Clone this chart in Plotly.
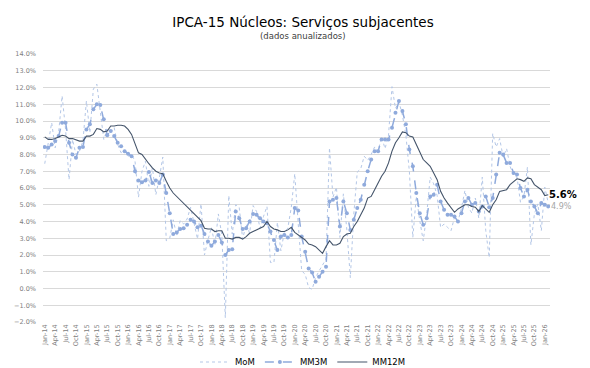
import plotly.graph_objects as go
import pandas as pd

# Monthly series (annualized, %), Jan-14 .. Feb-26
mom = [
    7.45, 8.65, 9.9, 8.4, 9.3, 11.5, 9.5, 6.5, 8.9, 8.0, 8.2, 8.8,
    11.2, 9.3, 11.9, 12.2, 10.7, 8.9, 9.5, 9.3, 9.6, 8.6, 8.1, 8.2,
    7.9, 8.0, 7.6, 5.45, 7.0, 7.6, 6.1, 7.2, 5.6, 6.6, 7.85, 2.85,
    3.0, 4.1, 3.15, 4.05, 3.85, 4.15, 4.85, 3.85, 2.95, 5.05, 2.0, 2.9,
    3.65, 2.6, 4.45, 3.2, -1.75, 5.55, 3.25, 5.0, 4.85, 2.95, 3.85, 3.3,
    4.95, 4.6, 3.6, 4.3, 4.9, 1.55, 1.55, 3.95, 2.25, 3.35, 3.6, 4.85,
    6.85, 3.85, 1.05, 0.85, 0.05, -0.05, 0.65, 1.05, 1.4, 1.75, 8.4, 5.45,
    6.05, 3.05, 5.65, 3.5, 0.65, 4.45, 6.95, 7.15, 7.9, 7.65, 8.0, 8.45,
    8.2, 9.05, 8.35, 9.15, 12.05, 10.75, 11.15, 10.35, 9.15, 7.0, 3.05, 5.5,
    4.05, 2.85, 4.45, 6.65, 6.25, 5.55, 3.65, 3.85, 3.65, 3.45, 4.25, 4.0,
    4.8, 5.85, 4.85, 4.5, 5.4, 4.2, 6.65, 3.45, 1.85, 9.25, 8.45, 8.95,
    7.85, 8.35, 7.3, 6.75, 6.65, 5.15, 5.5, 7.25, 2.6, 4.45, 5.05, 3.45,
    6.05, 5.1,
]

mm3m = [
    8.45, 8.4, 8.6, 8.8, 9.1, 9.9, 9.9, 8.7, 8.0, 7.8, 8.4, 8.45,
    9.5, 9.8, 10.7, 11.0, 10.95, 10.1, 9.15, 9.4, 9.1, 8.7, 8.5, 8.2,
    8.05, 7.9, 7.0, 6.45, 6.35, 6.45, 6.95, 6.3, 6.45, 6.3, 6.8, 5.7,
    4.5, 3.25, 3.35, 3.55, 3.6, 3.8, 4.1, 4.0, 3.65, 3.75, 3.25, 2.8,
    2.55, 2.8, 3.2, 2.75, 2.0, 2.3, 2.35, 4.6, 4.2, 3.55, 3.6, 4.0,
    4.45, 4.4, 4.2, 4.0, 3.9, 3.4, 2.9, 2.3, 3.1, 3.2, 3.05, 3.2,
    4.8, 4.65, 3.1, 2.2, 1.2, 0.95, 0.4, 0.7, 1.0, 1.3, 5.2, 5.3,
    5.4, 3.7, 5.2, 4.5, 3.5, 4.1, 4.8, 5.3, 6.2, 7.0, 7.7, 8.2,
    8.2, 8.9, 8.9, 8.9, 9.6, 10.5, 11.2, 10.6, 9.8, 8.3, 7.3, 5.7,
    4.5, 3.8, 4.2, 5.5, 5.6, 6.2, 5.2, 4.7, 4.4, 4.4, 4.3, 4.0,
    4.5, 5.2, 5.4, 5.0, 5.1, 4.6, 4.9, 5.5, 4.85, 5.4, 6.8, 8.1,
    8.0, 7.5, 7.5, 6.9, 6.8, 6.0, 5.5, 5.9, 5.2, 4.9, 4.5, 5.1,
    5.0, 4.9,
]

mm12m = [
    9.05, 8.9, 8.9, 8.95, 9.05, 9.15, 9.1, 8.95, 8.95, 8.85, 8.8, 8.8,
    9.1, 9.1, 9.2, 9.55, 9.5, 9.35, 9.4, 9.7, 9.7, 9.75, 9.75, 9.7,
    9.5, 9.2, 8.7, 8.1, 8.0, 7.7, 7.45, 7.2, 7.0, 6.9, 6.85, 6.4,
    6.0, 5.7, 5.5, 5.3, 5.1, 4.9, 4.7, 4.5, 4.3, 4.05, 3.6, 3.55,
    3.55, 3.4, 3.45, 3.45, 3.0, 3.0, 2.95, 3.05, 3.05, 2.95, 3.1, 3.3,
    3.4, 3.5, 3.6, 3.7, 4.0, 3.7, 3.55, 3.5, 3.4, 3.4, 3.5, 3.65,
    3.35, 3.2, 3.1, 2.9, 2.65, 2.6, 2.5, 2.3, 2.1, 2.5, 2.85, 2.6,
    2.6, 2.7, 3.1, 3.25, 3.3, 3.7, 4.0, 4.4, 4.8, 5.4, 5.5, 5.9,
    6.3, 6.7, 7.0, 7.5, 8.2, 8.7, 9.0, 9.35, 9.3, 9.1, 9.05, 8.6,
    8.1, 7.7, 7.5, 7.3, 6.9, 6.5, 5.8, 5.4, 5.1, 4.85, 4.55, 4.75,
    4.85, 5.0, 5.0, 4.9, 4.85, 4.6, 4.95, 4.75, 4.55, 5.0, 5.3, 5.8,
    5.85, 5.9, 6.2, 6.35, 6.55, 6.5, 6.4, 6.6, 6.55, 6.2, 6.05, 5.9,
    5.55, 5.6,
]

n = len(mom)
months = pd.date_range("2014-01-01", periods=n, freq="MS")
month_labels = [d.strftime("%b-%y") for d in months]
idx = list(range(n))
tick_vals = idx[::3]
tick_text = month_labels[::3]

FONT = "DejaVu Sans"
fig = go.Figure()
fig.add_trace(go.Scatter(
    x=idx, y=mom, name="MoM", mode="lines",
    line=dict(color="#B4C7E7", width=1, dash="dot"),
))
fig.add_trace(go.Scatter(
    x=idx, y=mm3m, name="MM3M", mode="lines+markers",
    line=dict(color="#8FAADC", width=1.5, dash="dash"),
    marker=dict(size=4, color="#8FAADC"),
))
fig.add_trace(go.Scatter(
    x=idx, y=mm12m, name="MM12M", mode="lines",
    line=dict(color="#44546A", width=1.1),
))

fig.add_annotation(x=idx[-1], y=mm12m[-1], xref="x", yref="y",
                   text=f"<b>{mm12m[-1]:.1f}%</b>", showarrow=False,
                   xanchor="left", xshift=0, borderpad=0,
                   font=dict(family=FONT, size=10, color="black"))
fig.add_annotation(x=idx[-1], y=mm3m[-1], xref="x", yref="y",
                   text=f"{mm3m[-1]:.1f}%", showarrow=False,
                   xanchor="left", xshift=2, borderpad=0,
                   font=dict(family=FONT, size=8, color="#A6A6A6"))
fig.add_annotation(x=0.513, y=1.067, xref="paper", yref="paper",
                   text="(dados anualizados)", showarrow=False,
                   xanchor="center", yanchor="middle",
                   font=dict(family=FONT, size=8.5, color="#404040"))

fig.update_layout(
    width=590, height=368,
    margin=dict(l=35, r=48, t=46, b=54, autoexpand=False),
    paper_bgcolor="white", plot_bgcolor="white",
    font=dict(family=FONT, color="#404040"),
    title=dict(text="IPCA-15 Núcleos: Serviços subjacentes",
               x=0.5, xref="container", xanchor="center",
               y=1 - 14 / 368, yref="container", yanchor="middle",
               font=dict(family=FONT, size=13.5, color="black")),
    showlegend=True,
    legend=dict(orientation="h", xref="container", x=0.5, xanchor="center",
                yref="container", y=1 - 354 / 368, yanchor="middle",
                font=dict(family=FONT, size=8.5, color="black"),
                itemwidth=30, bgcolor="rgba(0,0,0,0)"),
)
fig.update_xaxes(
    range=[-0.5, n - 0.5], tickmode="array", tickvals=tick_vals, ticktext=tick_text,
    tickangle=-90, showgrid=False, zeroline=False, showline=False, automargin=False,
    ticks="", tickfont=dict(family=FONT, size=6.5, color="#808080"),
)
fig.update_yaxes(
    range=[-2, 14], dtick=1, tick0=0, tickformat=".1f", ticksuffix="%",
    showgrid=True, gridcolor="#D9D9D9", gridwidth=1, zeroline=False, automargin=False,
    showline=False, ticks="", ticklabelstandoff=6,
    tickfont=dict(family=FONT, size=6.5, color="#808080"),
)

fig.write_html("out.html")
